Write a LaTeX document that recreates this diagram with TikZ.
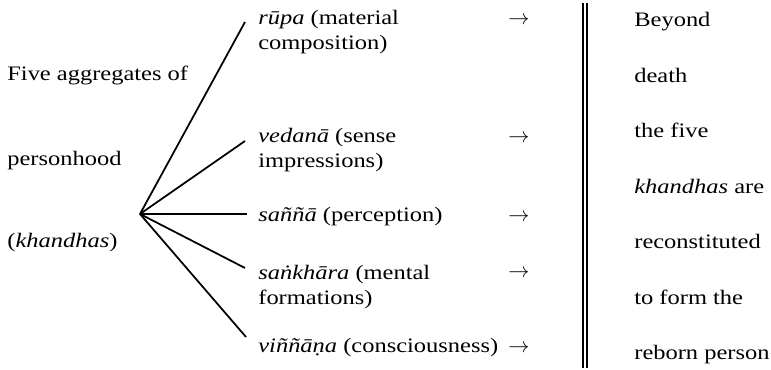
\documentclass[tikz,border=0pt]{standalone}
\usepackage{fontspec}
\setmainfont{Liberation Serif}[FakeStretch=1.19]
\usetikzlibrary{positioning}

\begin{document}
\begin{tikzpicture}[every node/.style={font=\fontsize{11.7}{14.5}\selectfont, inner sep=0pt},
    term/.style={anchor=base west, align=left},
    spoke/.style={line width=1pt}]
      \useasboundingbox (0,0) rectangle (15.42,7.4);
      % Left column: what is being split up
      \node[term] (agg) at (0.14,5.78) {Five aggregates of};
      \node[term] (person) at (0.14,4.08) {personhood};
      \node[term] (khan) at (0.14,2.44) {(\textit{khandhas})};
      % The five aggregates, one per spoke
      % (base of a two-line node is its last line)
      \node[term] (rupa) at (5.16,6.40) {\textit{rūpa} (material\\composition)};
      \node[term] (vedana) at (5.16,4.04) {\textit{vedanā} (sense\\impressions)};
      \node[term] (sanna) at (5.16,2.96) {\textit{saññā} (perception)};
      \node[term] (sankhara) at (5.16,1.30) {\textit{saṅkhāra} (mental\\formations)};
      \node[term] (vinnana) at (5.16,0.34) {\textit{viññāṇa} (consciousness)};
      % Spokes fan out from one point
      \coordinate (hub) at (2.80,3.12);
      \coordinate (e1) at (4.90,6.96);
      \coordinate (e2) at (4.90,4.58);
      \coordinate (e3) at (4.94,3.12);
      \coordinate (e4) at (4.90,2.04);
      \coordinate (e5) at (4.92,0.66);
      \foreach \e in {e1,e2,e3,e4,e5} {
        \draw[spoke] (hub) -- (\e);
      }
      % Arrows after each aggregate
      \foreach \y [count=\i] in {6.90,4.54,2.96,1.84,0.34} {
        \node[term, font=\fontsize{13}{14}\selectfont] (arrow\i) at (10.16,\y) {$\rightarrow$};
      }
      % Double rule (death)
      \coordinate (ruletop) at (11.70,7.34);
      \coordinate (rulebot) at (11.70,0.04);
      \draw[double, double distance=0.045cm, line width=1pt] (ruletop) -- (rulebot);
      % Right column, one line every 1.11
      \foreach \t [count=\i] in {Beyond, death, the five, \textit{khandhas} are,
          reconstituted, to form the, reborn person} {
        \node[term] (after\i) at (12.68,{6.86-(\i-1)*1.11}) {\t};
      }
    \end{tikzpicture}
\end{document}
